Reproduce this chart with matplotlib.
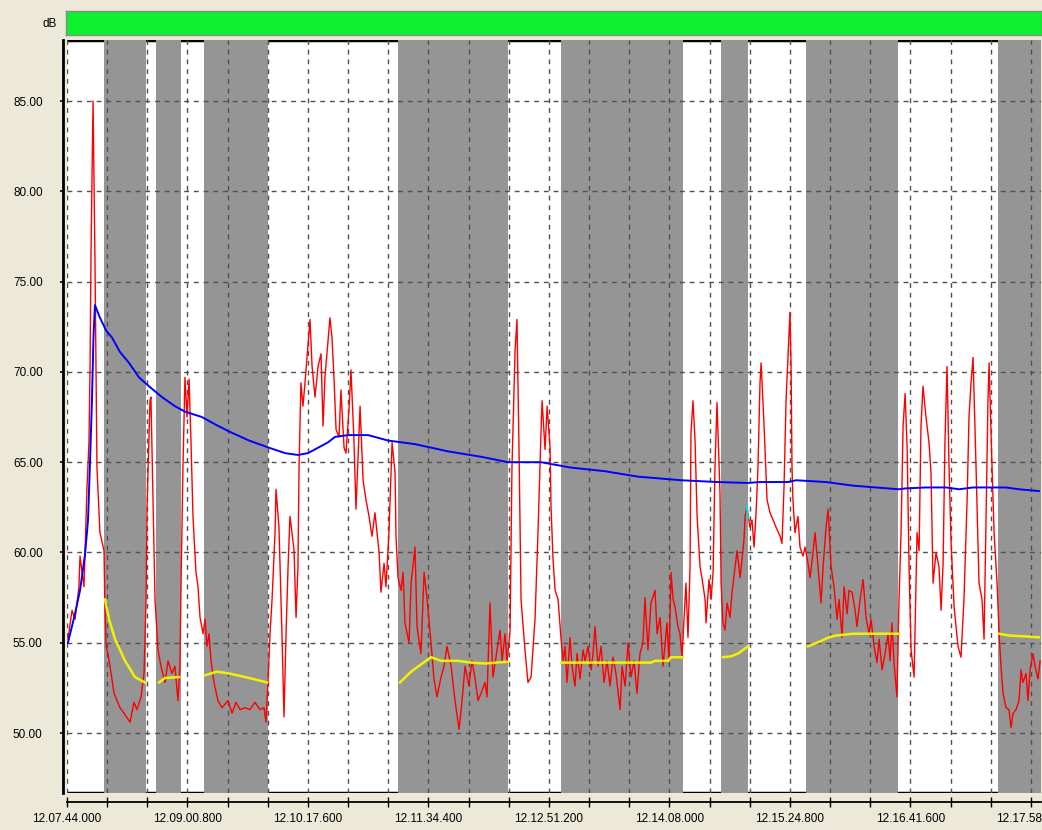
import numpy as np
import matplotlib
matplotlib.use('Agg')
import matplotlib.pyplot as plt
from matplotlib.ticker import FixedLocator, NullFormatter

# time in seconds from 12:07:44.000, level in dB
red_t = [0.6, 3.2, 5.1, 7.6, 8.3, 10.8, 11.5, 12.7, 14.0, 14.7, 15.3, 15.9, 16.6, 17.2, 17.8, 18.5, 19.1,
         21.0, 23.6, 24.0, 24.9, 26.1, 27.4, 30.0, 33.8, 36.3, 40.2, 42.7, 44.6, 47.2, 49.1, 50.4, 51.0,
         52.9, 53.5, 54.8, 56.1, 58.0, 59.9, 62.5, 64.4, 66.9, 68.8, 70.7, 72.0, 72.7, 73.9, 75.2, 76.5,
         77.8, 79.0, 80.3, 82.2, 83.5, 84.8, 86.7, 88.0, 89.2, 90.5, 91.8, 93.7, 96.2, 98.8, 102.6, 105.2,
         107.7, 110.3, 113.5, 116.6, 119.8, 123.0, 125.6, 126.8, 128.1, 129.4, 130.7, 132.6, 133.2, 135.1,
         137.0, 138.3, 139.6, 140.9, 142.1, 143.4, 144.7, 146.0, 147.2, 147.9, 149.1, 150.4, 151.7, 154.9,
         156.2, 158.1, 160.0, 161.9, 163.2, 164.4, 166.4, 167.6, 168.9, 170.2, 171.5, 173.4, 174.6, 176.6,
         177.8, 179.7, 181.0, 182.9, 184.2, 186.8, 188.7, 190.6, 192.5, 194.4, 196.3, 198.9, 200.1, 202.1,
         203.3, 205.2, 207.2, 209.1, 209.7, 211.0, 212.9, 214.2, 215.4, 218.0, 219.3, 221.8, 223.1, 225.6,
         227.6, 229.5, 232.0, 233.9, 235.8, 238.4, 240.3, 242.2, 244.8, 247.3, 249.9, 251.8, 253.7, 256.2,
         258.1, 260.1, 262.0, 263.9, 266.4, 267.7, 269.6, 271.5, 273.4, 276.0, 277.3, 279.2, 280.5, 282.4,
         283.6, 285.6, 286.8, 288.1, 289.4, 291.9, 293.8, 295.8, 298.3, 300.2, 302.1, 302.8, 304.7, 306.0,
         307.9, 308.5, 309.8, 311.1, 313.0, 314.9, 316.2, 317.4, 318.7, 320.6, 321.9, 323.8, 325.1, 327.0,
         328.9, 330.2, 332.1, 334.0, 335.3, 336.5, 338.5, 340.4, 342.3, 344.2, 346.1, 348.0, 349.9, 352.5,
         353.8, 355.7, 357.6, 359.5, 361.4, 363.3, 365.2, 367.1, 368.4, 370.3, 372.2, 374.8, 376.1, 378.0,
         379.9, 382.4, 383.7, 385.0, 386.3, 387.5, 389.4, 390.7, 392.0, 393.3, 394.5, 395.8, 397.1, 397.7,
         399.0, 400.3, 401.6, 403.5, 404.7, 406.7, 407.3, 409.2, 410.5, 411.8, 413.0, 414.3, 416.2, 416.9,
         418.1, 419.4, 420.7, 422.6, 423.9, 425.8, 427.1, 429.0, 430.2, 431.5, 432.2, 433.4, 435.3, 436.6,
         437.9, 439.2, 440.4, 441.7, 442.4, 444.3, 446.2, 448.1, 450.0, 451.9, 454.5, 455.7, 457.0, 458.3,
         460.2, 460.8, 461.5, 462.1, 462.7, 464.0, 465.9, 467.2, 469.1, 470.4, 472.3, 473.6, 475.5, 476.8,
         478.7, 480.6, 481.9, 483.8, 485.1, 487.0, 488.9, 490.8, 492.1, 494.0, 495.3, 497.2, 498.4, 500.4,
         502.3, 503.5, 505.5, 507.4, 509.3, 511.2, 512.5, 514.4, 516.3, 517.6, 519.5, 521.4, 523.3, 524.6,
         525.8, 527.1, 529.0, 530.3, 531.6, 532.9, 534.2, 535.5, 536.7, 538.0, 539.9, 541.8, 543.1, 544.3,
         545.6, 547.5, 549.4, 550.7, 552.0, 553.9, 555.8, 557.1, 558.4, 559.6, 560.9, 562.2, 563.5, 565.4,
         567.9, 569.8, 571.7, 573.7, 574.9, 576.2, 577.5, 579.4, 581.3, 583.2, 584.5, 585.8, 587.0, 587.7,
         589.6, 590.9, 592.8, 594.1, 595.3, 596.6, 598.5, 600.4, 601.7, 603.0, 604.9, 606.8, 608.1, 609.3,
         611.3, 612.5, 613.8, 615.7, 617.0, 618.9, 620.2]
red_db = [55.2, 56.8, 56.3, 58.1, 59.8, 58.1, 60.0, 63.5, 66.1, 70.3, 76.5, 80.6, 85.0, 80.6, 76.4, 70.0, 64.7,
          61.1, 60.1, 57.8, 54.8, 54.4, 53.7, 52.2, 51.4, 51.1, 50.6, 51.7, 51.3, 52.0, 53.3, 57.4, 62.5,
          68.4, 68.6, 62.9, 57.4, 54.6, 53.7, 52.8, 54.0, 53.3, 53.7, 51.8, 53.7, 58.3, 64.7, 69.7, 67.5,
          69.6, 66.2, 62.0, 58.9, 58.1, 56.4, 55.5, 56.3, 54.8, 55.5, 54.0, 52.8, 51.8, 51.4, 51.8, 51.1,
          51.7, 51.3, 51.4, 51.3, 51.7, 51.3, 51.4, 50.6, 52.8, 55.5, 57.4, 61.1, 63.5, 61.4,
          55.5, 50.9, 55.5, 59.2, 62.0, 61.1, 60.1, 56.4, 59.2, 64.7, 69.4, 68.1, 69.4, 72.9,
          70.3, 68.6, 70.3, 71.0, 67.0, 69.7, 71.8, 73.0, 71.9, 69.6, 66.8, 66.4, 69.0, 65.8,
          65.5, 67.9, 70.1, 66.2, 62.4, 68.1, 64.0, 62.9, 62.0, 60.9, 62.2, 60.0, 57.8, 59.4,
          58.1, 61.1, 66.1, 64.4, 60.9, 58.6, 57.9, 58.9, 56.1, 55.0, 58.3, 60.3, 55.9, 54.4,
          58.9, 57.4, 55.0, 53.0, 52.0, 53.1, 53.7, 54.8, 53.7, 51.8, 50.2, 51.8, 53.7, 52.6,
          54.0, 53.0, 51.8, 52.2, 52.8, 52.0, 57.2, 53.1, 54.2, 55.7, 54.0, 55.5, 53.9, 55.7,
          64.7, 71.2, 72.9, 65.7, 57.4, 54.6, 52.8, 53.1, 56.3, 61.1, 66.6, 68.4, 65.7, 68.1,
          65.8, 62.5, 59.6, 57.9, 57.4, 55.2, 54.0, 54.8, 52.8, 55.3, 53.7, 52.6, 54.4, 53.0,
          54.6, 54.0, 54.8, 53.5, 54.4, 55.9, 53.7, 54.8, 52.8, 54.0, 52.6, 54.2, 53.3, 51.3,
          53.7, 52.6, 55.0, 53.1, 54.0, 52.2, 54.4, 55.0, 57.5, 54.6, 57.2, 57.9, 55.5, 56.4,
          53.7, 56.1, 54.0, 58.9, 57.4, 57.0, 55.9, 55.5, 54.2, 56.3, 58.3, 55.3, 59.2, 66.6,
          68.4, 66.2, 62.0, 59.2, 58.6, 57.4, 56.1, 58.5, 57.4, 58.9, 64.7, 68.3, 63.3, 58.3,
          56.1, 55.7, 57.2, 56.4, 57.8, 59.2, 60.1, 58.6, 59.6, 60.7, 62.0, 62.5, 61.4, 61.8,
          60.3, 62.2, 64.7, 69.4, 70.5, 67.0, 62.9, 62.2, 61.8, 61.4, 60.9, 60.5, 63.6, 68.4,
          72.2, 73.3, 70.3, 64.7, 62.9, 61.1, 62.0, 60.3, 59.8, 60.3, 59.4, 58.6, 60.0, 61.1,
          59.2, 57.2, 59.2, 61.4, 62.4, 59.2, 58.1, 56.3, 57.4, 55.3, 58.1, 56.6, 57.9, 57.8,
          56.8, 55.9, 57.4, 58.5, 56.4, 55.5, 56.3, 54.8, 53.9, 55.2, 53.5, 54.4, 55.5, 54.0,
          56.1, 53.9, 52.0, 57.4, 61.1, 67.0, 68.8, 65.7, 59.2, 54.6, 53.1, 61.1, 60.1, 67.0,
          69.2, 67.5, 66.1, 64.4, 58.3, 60.0, 59.2, 56.8, 59.4, 66.2, 70.3, 64.7, 60.5, 57.0,
          54.8, 54.2, 57.4, 62.9, 67.5, 69.4, 70.8, 64.7, 58.3, 57.4, 55.2, 62.0, 68.4, 70.5,
          64.7, 61.1, 58.3, 55.5, 53.7, 52.2, 51.4, 51.3, 50.3, 51.1, 51.3, 51.8, 53.5, 52.8,
          53.3, 51.8, 53.5, 54.4, 53.7, 53.0, 54.0]

blue_t = [0.6, 5.1, 8.3, 11.5, 13.4, 14.7, 15.9, 16.9, 17.8, 21.0, 24.9, 28.7, 33.8, 39.5, 45.9, 52.3,
          60.6, 68.8, 75.2, 86.0, 94.3, 103.3, 116.0, 128.8, 139.0, 147.2, 153.6, 160.0, 166.4, 170.8,
          179.1, 191.9, 204.6, 221.8, 242.8, 263.9, 281.1, 302.1, 321.2, 342.9, 363.9, 391.4, 414.9,
          434.0, 441.7, 459.6, 464.7, 483.8, 501.0, 515.7, 530.3, 534.8, 547.5, 560.3, 568.6, 577.5,
          598.5, 606.8, 619.5]
blue_db = [55.0, 56.6, 57.9, 59.9, 61.8, 65.1, 68.4, 72.0, 73.7, 73.0, 72.3, 71.9, 71.1, 70.5, 69.7, 69.2,
           68.6, 68.1, 67.8, 67.5, 67.1, 66.7, 66.2, 65.8, 65.5, 65.4, 65.5, 65.8, 66.1, 66.4,
           66.5, 66.5, 66.2, 66.0, 65.6, 65.3, 65.0, 65.0, 64.7, 64.5, 64.2, 64.0, 63.9,
           63.85, 63.9, 63.9, 64.0, 63.9, 63.7, 63.6, 63.5, 63.55, 63.6, 63.6, 63.5, 63.6,
           63.6, 63.5, 63.4]

# yellow background level, one piece per shaded interval
yellow_t = [[24.2, 26.8, 30.6, 37.0, 43.3, 49.7],
            [58.6, 62.5, 71.4],
            [88.0, 95.6, 103.3, 116.0, 127.5],
            [212.2, 219.3, 225.6, 232.0, 238.4, 249.2, 257.5, 266.4, 281.1],
            [314.9, 372.2, 374.8, 383.1, 385.0, 392.6],
            [418.1, 423.2, 427.7, 434.0],
            [472.3, 479.3, 485.7, 490.1, 501.0, 530.3],
            [594.1, 600.4, 611.3, 619.5]]
yellow_db = [[57.4, 56.3, 55.2, 54.0, 53.1, 52.8],
             [52.8, 53.05, 53.1],
             [53.2, 53.4, 53.3, 53.05, 52.8],
             [52.8, 53.4, 53.8, 54.2, 54.0, 54.0, 53.9, 53.85, 53.95],
             [53.9, 53.9, 54.0, 54.0, 54.2, 54.2],
             [54.2, 54.25, 54.4, 54.8],
             [54.8, 55.05, 55.3, 55.4, 55.5, 55.5],
             [55.5, 55.4, 55.35, 55.3]]

cyan_t = [433.4, 433.9]
cyan_db = [62.6, 61.9]

# shaded (gray) intervals in seconds
band_start = [23.6, 56.7, 87.3, 211.0, 314.9, 416.8, 471.0, 593.4]
band_end = [50.4, 72.7, 128.1, 281.1, 392.6, 434.0, 529.7, 621.0]

tick_labels = ['12.07.44.000', '12.09.00.800', '12.10.17.600', '12.11.34.400', '12.12.51.200',
               '12.14.08.000', '12.15.24.800', '12.16.41.600', '12.17.58.400']
y_ticks = [50, 55, 60, 65, 70, 75, 80, 85]

W, H = 1042, 830
bg = '#ECE9D8'
font = 'Liberation Sans'
fig = plt.figure(figsize=(W / 100, H / 100), dpi=100, facecolor=bg)

# green header bar
bar = fig.add_axes([66 / W, 1 - 35 / H, 976 / W, 24 / H])
bar.set_facecolor('#0CF02E')
bar.set_xticks([])
bar.set_yticks([])
for s in bar.spines.values():
    s.set_color('#8a8a8a')
    s.set_linewidth(1)
fig.text(57 / W, 1 - 24 / H, 'dB', ha='right', va='center', fontsize=8.5, family=font)

ax = fig.add_axes([67 / W, 37 / H, 974 / W, 753 / H])
ax.set_facecolor('white')
x_max = 620.8
y_lo, y_hi = 46.68, 88.38
ax.set_xlim(0, x_max)
ax.set_ylim(y_lo, y_hi)

for a, b in zip(band_start, band_end):
    ax.axvspan(a, b, color='#959595', lw=0, zorder=1)

# top and bottom frame lines (hidden under the gray bands)
ax.axhline(y_hi, color='black', lw=2.5, zorder=0.5)
ax.axhline(y_lo, color='black', lw=2.5, zorder=0.5)

# dashed grid
grid_x = np.arange(0, x_max, 25.6)
for gx in grid_x:
    ax.axvline(gx, color='#505050', lw=1.0, dashes=(3.5, 3.5), zorder=2)
for gy in y_ticks:
    ax.axhline(gy, color='#505050', lw=1.0, dashes=(3.5, 3.5), zorder=2)

ax.plot(red_t, red_db, color='#FF0000', lw=1.0, zorder=3)
for yt, yd in zip(yellow_t, yellow_db):
    ax.plot(yt, yd, color='#F2F200', lw=1.8, zorder=3.5)
ax.plot(blue_t, blue_db, color='#0000FF', lw=1.4, zorder=4)
ax.plot(cyan_t, cyan_db, color='#00E0E0', lw=1.5, zorder=4)

# axes styling
ax.spines['top'].set_visible(False)
ax.spines['right'].set_visible(False)
ax.spines['left'].set_position(('outward', 3))
ax.spines['left'].set_linewidth(2)
ax.spines['bottom'].set_position(('outward', 6.5))
ax.spines['bottom'].set_linewidth(1.3)

ax.set_yticks(y_ticks)
ax.set_yticklabels(['%.2f' % v for v in y_ticks], fontsize=8.5, family=font)
ax.tick_params(axis='y', direction='out', length=2.5, width=1.2, pad=12)

major_x = [i * 76.8 for i in range(len(tick_labels))]
ax.set_xticks(major_x)
ax.set_xticklabels(tick_labels, fontsize=8.5, family=font)
ax.xaxis.set_minor_locator(FixedLocator(list(grid_x)))
ax.xaxis.set_minor_formatter(NullFormatter())
ax.tick_params(axis='x', which='both', direction='inout', length=6.5, width=1, pad=5)

fig.savefig('out.png', dpi=100, facecolor=bg)
